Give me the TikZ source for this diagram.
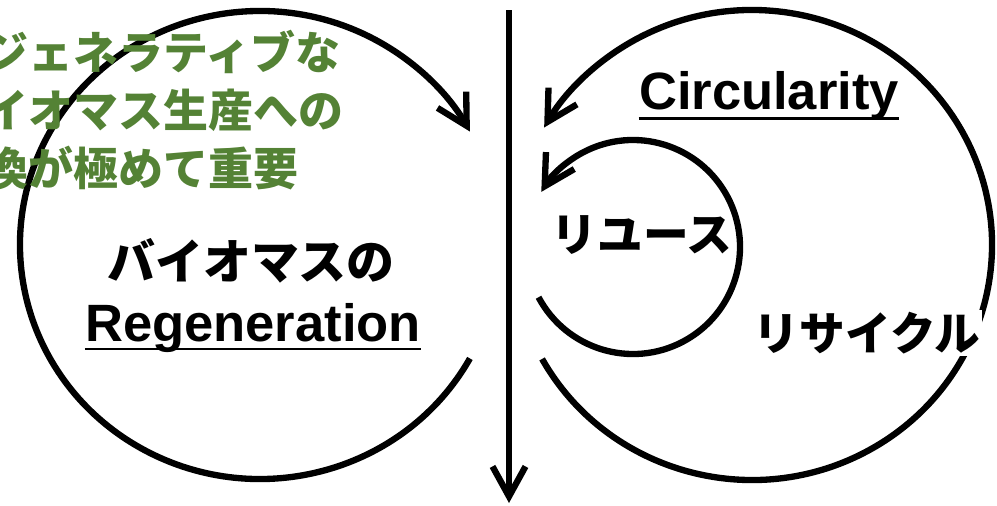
\documentclass[tikz,border=0pt]{standalone}
\usepackage{fontspec}
\setsansfont{Liberation Sans}
\newfontfamily\jpfont{Noto Sans CJK JP}
\usetikzlibrary{arrows.meta}
\definecolor{cycleink}{HTML}{000000}
\definecolor{cyclegreen}{HTML}{548235}

\begin{document}
\begin{tikzpicture}[
  x=0.02cm,
  y=0.02cm,
  every node/.style={inner sep=0pt, text=cycleink},
  cyclearrow/.style={cycleink, line width=3.6pt, -{Straight Barb[length=6mm,width=6.6mm]}},
  jp/.style={font=\jpfont\bfseries\fontsize{26}{33}\selectfont},
  en/.style={font=\sffamily\bfseries\fontsize{29.9}{34}\selectfont},
  uline/.style={cycleink, line width=1.5pt}
]
  \useasboundingbox (0,0) rectangle (997,505);
  \clip (0,0) rectangle (997,505);

  % centres of the three loops
  \coordinate (lc) at (260,260);
  \coordinate (rc) at (752,260);
  \coordinate (sc) at (633,258);
  \coordinate (top) at (509,495);
  \coordinate (bottom) at (509,2);

  % loops
  \draw[cyclearrow] ([shift={(-29:240 and 234)}]lc)
    arc[start angle=-29, end angle=-331, x radius=240, y radius=234];
  \draw[cyclearrow] ([shift={(209:240 and 235)}]rc)
    arc[start angle=209, end angle=510, x radius=240, y radius=235];
  \draw[cyclearrow] ([shift={(208:107)}]sc)
    arc[start angle=208, end angle=509, radius=107];

  % flow down the middle
  \draw[cyclearrow] (top) -- (bottom);

  \node[jp, anchor=west, align=left, text=cyclegreen,
    font=\jpfont\bfseries\fontsize{25.6}{33}\selectfont] (note) at (-62,395)
    {リジェネラティブな\\バイオマス生産への\\転換が極めて重要};

  \node[jp, font=\jpfont\bfseries\fontsize{27.3}{33}\selectfont] (bio) at (251,244) {バイオマスの};
  \node[en, anchor=base] (regen) at (253,164) {Regeneration};
  \draw[uline] ([yshift=-4.5pt]regen.base west) -- ([yshift=-4.5pt]regen.base east);

  \node[en, anchor=base] (circ) at (769,396) {Circularity};
  \draw[uline] ([yshift=-5.5pt]circ.base west) -- ([yshift=-5.5pt]circ.base east);

  \node[jp] (reuse) at (642,270) {リユース};
  \node[jp, fill=white, inner sep=1pt] (recycle) at (867,172) {リサイクル};
\end{tikzpicture}
\end{document}
